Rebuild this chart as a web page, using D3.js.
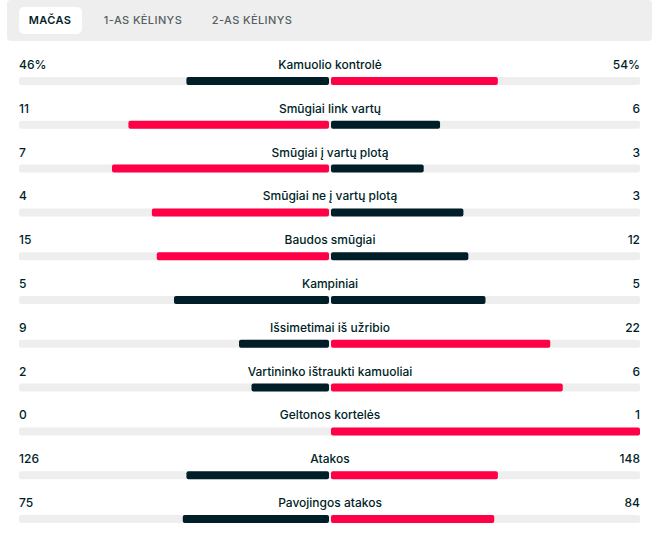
<!DOCTYPE html>
<html><head><meta charset="utf-8">
<script src="https://cdn.jsdelivr.net/npm/d3@7/dist/d3.min.js"></script>
<style>body{margin:0;background:#fff;}svg{display:block;font-family:Inter,"Noto Sans",sans-serif;}</style>
</head><body><svg id="c" width="662" height="545"></svg>
<script>
const tabs = ["MAČAS", "1-AS KĖLINYS", "2-AS KĖLINYS"];
const categories = ["Kamuolio kontrolė","Smūgiai link vartų","Smūgiai į vartų plotą","Smūgiai ne į vartų plotą","Baudos smūgiai","Kampiniai","Išsimetimai iš užribio","Vartininko ištraukti kamuoliai","Geltonos kortelės","Atakos","Pavojingos atakos"];
const homeValues = [46,11,7,4,15,5,9,2,0,126,75];
const awayValues = [54,6,3,3,12,5,22,6,1,148,84];
const suffix = ["%","","","","","","","","","",""];

const svg = d3.select("#c");
const RED = "#ff0046", DARK = "#001e28", TRACK = "#eeeeee", TXT = "#001e28";

// tabs
svg.append("rect").attr("x",7).attr("y",0).attr("width",645).attr("height",41).attr("rx",4).attr("fill","#eeeeee");
const tabX = [50, 143, 252];
const tabW = [63, 0, 0];
svg.append("rect").attr("x",19).attr("y",7).attr("width",63).attr("height",27).attr("rx",5).attr("fill","#fff");
svg.selectAll("text.tab").data(tabs).join("text").attr("class","tab")
  .attr("x",(d,i)=>tabX[i]).attr("y",24).attr("text-anchor","middle")
  .attr("font-size",11).attr("font-weight",(d,i)=>i===0?600:500)
  .attr("letter-spacing",0.4)
  .attr("fill",(d,i)=>i===0?TXT:"#555e63").text(d=>d);

const left = 19, right = 640, center = 330;
const y = d3.scalePoint().domain(categories).range([69, 507]);
const lx = d3.scaleLinear().domain([0,1]).range([center-1, left]);
const rx = d3.scaleLinear().domain([0,1]).range([center+1, right]);

const rows = svg.selectAll("g.row").data(categories).join("g").attr("class","row")
  .attr("transform",d=>`translate(0,${y(d)})`);

rows.append("rect").attr("x",left).attr("y",8).attr("width",right-left).attr("height",8).attr("rx",2).attr("fill",TRACK);

rows.each(function(cat,i){
  const g = d3.select(this);
  const h = homeValues[i], a = awayValues[i], tot = h + a;
  const hs = tot ? h/tot : 0, as = tot ? a/tot : 0;
  const hc = h > a ? RED : DARK, ac = a > h ? RED : DARK;
  if (h > 0) g.append("rect").attr("x",lx(hs)).attr("y",8).attr("width",lx(0)-lx(hs)).attr("height",8).attr("rx",2).attr("fill",hc);
  if (a > 0) g.append("rect").attr("x",rx(0)).attr("y",8).attr("width",rx(as)-rx(0)).attr("height",8).attr("rx",2).attr("fill",ac);
  g.append("text").attr("x",left).attr("y",0).attr("font-size",12).attr("font-weight",500).attr("fill",TXT).text(h+suffix[i]);
  g.append("text").attr("x",right).attr("y",0).attr("text-anchor","end").attr("font-size",12).attr("font-weight",500).attr("fill",TXT).text(a+suffix[i]);
  g.append("text").attr("x",center).attr("y",0).attr("text-anchor","middle").attr("font-size",12).attr("font-weight",500).attr("fill",TXT).text(cat);
});
</script></body></html>
